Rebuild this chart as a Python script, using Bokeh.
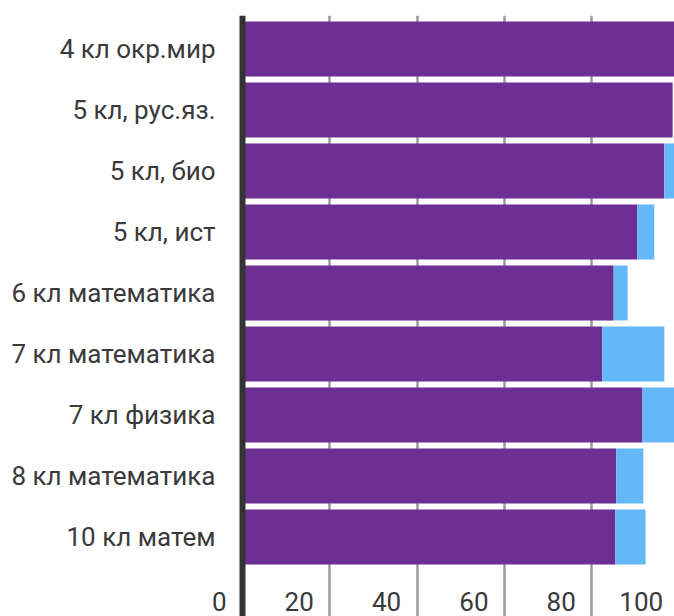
from bokeh.plotting import figure
from bokeh.models import Range1d, FixedTicker, ColumnDataSource, Label, Span
from bokeh.core.properties import value
from bokeh.embed import file_html
from bokeh.resources import INLINE

categories = ["4 кл окр.мир", "5 кл, рус.яз.", "5 кл, био", "5 кл, ист",
              "6 кл математика", "7 кл математика", "7 кл физика",
              "8 кл математика", "10 кл матем"]
purple_vals = [100.0, 98.5, 96.6, 90.4, 85.0, 82.4, 91.6, 85.6, 85.4]
blue_vals = [0.0, 0.0, 3.4, 3.9, 3.2, 14.2, 8.4, 6.2, 6.9]
tick_values = [0, 20, 40, 60, 80, 100]
tick_labels = ["0", "20", "40", "60", "80", "100"]

PURPLE = "#6d2f94"
BLUE = "#64b8f8"
TEXT = "#3a3a3a"
FONT = "Roboto"

n = len(categories)
ypos = list(range(n))
blue_left = purple_vals
blue_right = [a + b for a, b in zip(purple_vals, blue_vals)]

p = figure(width=674, height=616, output_backend="svg", toolbar_location=None,
           x_range=Range1d(-55.42, 98.93), y_range=Range1d(9.303, -0.549),
           min_border_left=0, min_border_right=0, min_border_top=15,
           min_border_bottom=0)
p.outline_line_color = None
p.background_fill_color = "white"
p.border_fill_color = "white"
p.xaxis.visible = False
p.yaxis.visible = False
p.ygrid.visible = False

# vertical grid lines
p.xgrid.ticker = FixedTicker(ticks=tick_values[1:])
p.xgrid.grid_line_color = "#9a9a9a"
p.xgrid.grid_line_width = 2.5

src = ColumnDataSource(dict(y=ypos, purple=purple_vals, bl=blue_left,
                            br=blue_right, cat=categories))
p.hbar(y="y", left=0, right="purple", height=0.9, source=src,
       fill_color=PURPLE, line_color=None)
p.hbar(y="y", left="bl", right="br", height=0.9, source=src,
       fill_color=BLUE, line_color=None)

# category axis line at x = 0
p.add_layout(Span(location=0, dimension="height", line_color="#333333",
                  line_width=6))

# category labels
p.text(x=0, y="y", text="cat", source=src, text_align="right",
       text_baseline="middle", x_offset=-27,
       text_font=value(FONT), text_font_size="26px", text_color=TEXT)

# x tick labels next to gridlines, near the bottom
for tv, tl in zip(tick_values, tick_labels):
    p.add_layout(Label(x=tv, y=9.057, text=tl, text_align="right",
                       text_baseline="middle", x_offset=-16,
                       text_font=FONT, text_font_size="26px",
                       text_color=TEXT))

open("out.html", "w").write(file_html(p, INLINE))
